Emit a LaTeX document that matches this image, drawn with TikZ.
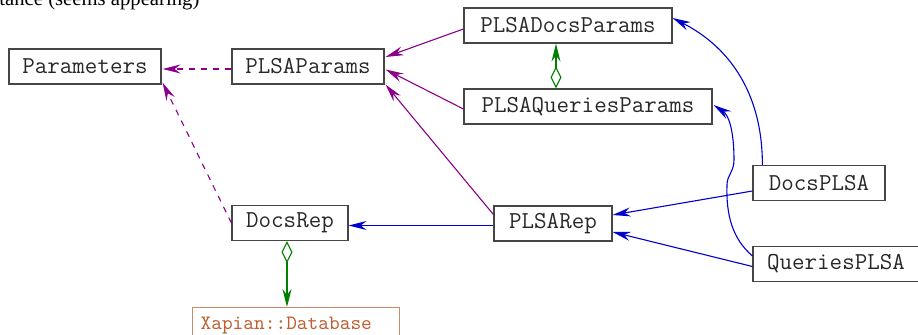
\documentclass[tikz,border=0pt]{standalone}
\usepackage{fontspec}
\setmainfont{Liberation Serif}
\usetikzlibrary{arrows.meta,calc}

\definecolor{inhcol}{RGB}{139,0,139}
\definecolor{usecol}{RGB}{0,0,205}
\definecolor{aggcol}{RGB}{0,128,0}
\definecolor{extline}{RGB}{205,140,105}
\definecolor{exttext}{RGB}{190,95,50}
\definecolor{boxline}{RGB}{70,70,70}
\definecolor{clstext}{RGB}{40,40,40}

\tikzset{
  cls/.style={draw=boxline, line width=0.6pt, inner sep=0pt, text=clstext,
    minimum height=17.5pt, font=\fontsize{12.15}{14}\selectfont\ttfamily},
  extcls/.style={draw=extline, line width=0.6pt, inner ysep=0pt, inner xsep=4pt,
    minimum height=17.5pt, text width=95.5pt, align=left, text=exttext,
    font=\fontsize{10.2}{12}\selectfont\ttfamily},
  inherit/.style={draw=inhcol, line width=0.55pt, -{Stealth[length=9pt,width=4.5pt,inset=3pt]}},
  inheritdash/.style={inherit, dash pattern=on 3pt off 3pt},
  uses/.style={draw=usecol, line width=0.55pt, -{Stealth[length=9pt,width=4.5pt,inset=3pt]}},
  aggr/.style={draw=aggcol, line width=0.55pt,
    {Diamond[open,length=11pt,width=5.5pt]}-{Stealth[length=9pt,width=4.5pt,inset=3pt]}},
}

\begin{document}
\begin{tikzpicture}[x=0.5pt, y=-0.5pt]
\useasboundingbox (0,0) rectangle (918,335);

% heading text, partly above the page
\node[anchor=base west, inner sep=0pt, font=\fontsize{10.35}{12}\selectfont] (heading) at (-1,5.5) {tance (seems appearing)};

% classes
\node[cls, minimum width=76pt]   (Parameters) at (85,66.5)   {Parameters};
\node[cls, minimum width=76pt]   (PLSAParams) at (308,66.5)  {PLSAParams};
\node[cls, minimum width=104pt]  (PLSADocsParams) at (568,25.5) {PLSADocsParams};
\node[cls, minimum width=124pt]  (PLSAQueriesParams) at (588,106.5) {PLSAQueriesParams};
\node[cls, minimum width=66pt]   (DocsPLSA) at (819,183)     {DocsPLSA};
\node[cls, minimum width=83pt]   (QueriesPLSA) at (836,264)  {QueriesPLSA};
\node[cls, minimum width=59pt]   (PLSARep) at (553,223.5)    {PLSARep};
\node[cls, minimum width=58pt]   (DocsRep) at (290,223)      {DocsRep};
\node[extcls, anchor=north west] (Xapian) at (192,307)       {Xapian::Database};

% inheritance
\draw[inheritdash] ($(PLSAParams.west)+(0,2.5)$) -- ($(Parameters.east)+(1,2.5)$);
\draw[inheritdash] (DocsRep.west) -- ($(Parameters.south east)+(1,-2)$);
\draw[inherit] ($(PLSADocsParams.west)+(0,3.5)$) -- ($(PLSAParams.east)+(1,-9.5)$);
\draw[inherit] ($(PLSAQueriesParams.west)+(0,2.5)$) -- ($(PLSAParams.east)+(1,3)$);
\draw[inherit] ($(PLSARep.west)+(0,-9)$) -- ($(PLSAParams.south east)+(1,0)$);

% aggregation
\draw[aggr] ($(PLSAQueriesParams.north)+(-32,0)$) -- ($(PLSADocsParams.south)+(-12,0)$);
\draw[aggr] ($(DocsRep.south)+(-3,0)$) -- ($(Xapian.north west)+(95,0)$);

% usage
\draw[uses] ($(PLSARep.west)+(0,2)$) -- ($(DocsRep.east)+(0,2.5)$);
\draw[uses] ($(DocsPLSA.west)+(0,8)$) -- ($(PLSARep.east)+(0,-8.5)$);
\draw[uses] ($(QueriesPLSA.west)+(0,2.5)$) -- ($(PLSARep.east)+(0,8.5)$);
\draw[uses] ($(DocsPLSA.north west)+(10,0)$)
  .. controls +(0,-76) and +(53,27) .. ($(PLSADocsParams.east)+(0,-7.5)$);
\coordinate (kinkA) at (727,185);
\coordinate (kinkB) at (734,160);
\draw[uses] ($(QueriesPLSA.north west)+(0,10)$)
  .. controls +(-20,-17) and +(-1,30) .. (kinkA)
  .. controls +(0,-10) and +(0,12) .. (kinkB)
  .. controls +(0,-30) and +(15,10) .. ($(PLSAQueriesParams.east)+(1,-1.5)$);
\end{tikzpicture}
\end{document}
